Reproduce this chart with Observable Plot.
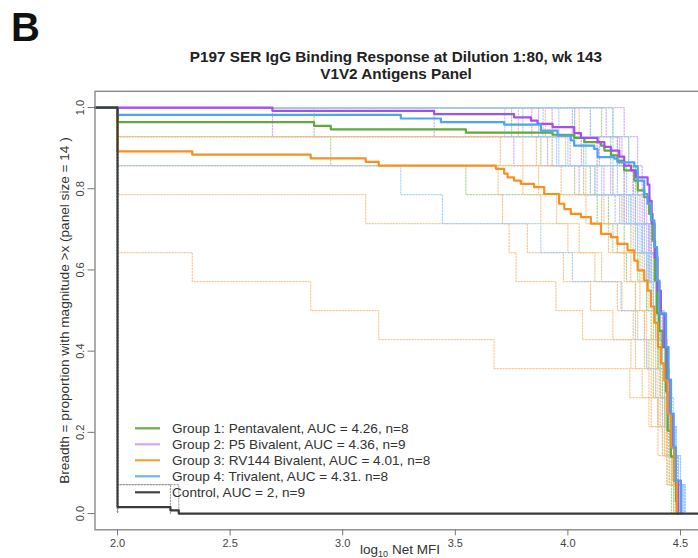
<!DOCTYPE html>
<html><head><meta charset="utf-8">
<script src="https://cdn.jsdelivr.net/npm/d3@7"></script>
<script src="https://cdn.jsdelivr.net/npm/@observablehq/plot@0.6"></script>
<style>
body{margin:0;background:#fff;}
#wrap{position:relative;width:698px;height:558px;overflow:hidden;font-family:"Liberation Sans",Arial,sans-serif;background:#fff;}
#tag{position:absolute;left:11px;top:5px;font:bold 40px "Liberation Sans",Arial,sans-serif;color:#111;}
#title{position:absolute;left:0;width:792px;top:48px;text-align:center;font:bold 15.3px "Liberation Sans",Arial,sans-serif;line-height:17px;color:#222;}
#chart{position:absolute;left:0;top:85px;width:707px;}
#chart svg{max-width:none !important;}
</style></head>
<body>
<div id="wrap">
  <div id="tag">B</div>
  <div id="title">P197 SER IgG Binding Response at Dilution 1:80, wk 143<br>V1V2 Antigens Panel</div>
  <div id="chart"></div>
</div>
<script>
// ---- axis / labels ----
const X0 = 1.9, X1 = 4.62;
const xTicks = [2.0, 2.5, 3.0, 3.5, 4.0, 4.5];
const yTicks = [0, 0.2, 0.4, 0.6, 0.8, 1.0];
const yLabel = "Breadth = proportion with magnitude >x (panel size = 14 )";
const groups = ["Group 1: Pentavalent, AUC = 4.26, n=8", "Group 2: P5 Bivalent, AUC = 4.36, n=9",
  "Group 3: RV144 Bivalent, AUC = 4.01, n=8", "Group 4: Trivalent, AUC = 4.31. n=8", "Control, AUC = 2, n=9"];
const solidColors = ["#62a83c", "#a450f0", "#f7901e", "#4fa3f2", "#3a3a3a"];
const dotColors = ["#9fcf82", "#d49cf7", "#f9bd80", "#9ccbf7", "#9a9a9a"];
const legendColors = ["#6aad45", "#d8a5f7", "#f7a040", "#6cb4f5", "#444444"];

// ---- group (solid) curves: x where the step drops, y after the drop ----
const g1X = [1.9, 2.0, 2.873, 2.947, 3.547, 3.932, 4.028, 4.073, 4.147, 4.162, 4.191, 4.22, 4.25, 4.295, 4.31, 4.339, 4.361, 4.376, 4.387, 4.396, 4.405, 4.42, 4.436, 4.443, 4.458, 4.47, 4.48, 4.487];
const g1Y = [1.0, 0.964, 0.955, 0.946, 0.938, 0.933, 0.925, 0.915, 0.906, 0.894, 0.882, 0.869, 0.845, 0.82, 0.796, 0.779, 0.738, 0.672, 0.574, 0.493, 0.45, 0.41, 0.30, 0.204, 0.14, 0.081, 0.03, 0];
const g2X = [1.9, 2.688, 3.406, 3.761, 3.836, 3.865, 3.932, 4.028, 4.058, 4.132, 4.162, 4.191, 4.228, 4.25, 4.28, 4.302, 4.354, 4.362, 4.372, 4.385, 4.398, 4.413, 4.428, 4.443, 4.455, 4.465, 4.476, 4.49];
const g2Y = [1.0, 0.992, 0.984, 0.976, 0.968, 0.96, 0.952, 0.937, 0.925, 0.915, 0.903, 0.894, 0.879, 0.857, 0.845, 0.828, 0.81, 0.77, 0.714, 0.631, 0.549, 0.492, 0.41, 0.328, 0.245, 0.163, 0.08, 0];
const g3X = [1.9, 2.0, 2.332, 2.858, 3.102, 3.16, 3.68, 3.717, 3.732, 3.761, 3.791, 3.85, 3.895, 3.961, 3.984, 4.013, 4.058, 4.102, 4.147, 4.191, 4.22, 4.265, 4.295, 4.31, 4.339, 4.354, 4.369, 4.384, 4.40, 4.413, 4.428, 4.443, 4.458, 4.472, 4.484];
const g3Y = [1.0, 0.892, 0.884, 0.875, 0.866, 0.857, 0.849, 0.837, 0.828, 0.82, 0.812, 0.804, 0.787, 0.763, 0.75, 0.738, 0.73, 0.714, 0.689, 0.681, 0.664, 0.648, 0.623, 0.599, 0.574, 0.549, 0.51, 0.47, 0.41, 0.37, 0.328, 0.246, 0.163, 0.081, 0];
const g4X = [1.9, 2.0, 3.258, 3.436, 3.717, 3.88, 3.954, 4.013, 4.028, 4.117, 4.132, 4.206, 4.22, 4.295, 4.31, 4.339, 4.354, 4.369, 4.384, 4.396, 4.406, 4.436, 4.447, 4.458, 4.47, 4.48, 4.502];
const g4Y = [1.0, 0.982, 0.973, 0.964, 0.958, 0.943, 0.931, 0.919, 0.906, 0.898, 0.878, 0.874, 0.865, 0.855, 0.82, 0.787, 0.763, 0.722, 0.656, 0.574, 0.493, 0.41, 0.33, 0.246, 0.163, 0.081, 0];
const ctlX = [1.9, 2.0, 2.235, 2.272, X1];
const ctlY = [1.0, 0.0159, 0.0079, 0, 0];

// ---- individual animals (14 antigens each, log10 net MFI, floor 2.0) ----
const grp1Animals = [
  [2.00, 4.22, 4.30, 4.34, 4.37, 4.39, 4.41, 4.42, 4.43, 4.44, 4.45, 4.46, 4.47, 4.49],
  [2.873, 2.947, 3.547, 4.28, 4.33, 4.36, 4.38, 4.40, 4.41, 4.43, 4.44, 4.45, 4.47, 4.48],
  [2.00, 3.93, 4.03, 4.15, 4.25, 4.31, 4.35, 4.38, 4.40, 4.42, 4.43, 4.45, 4.46, 4.48],
  [2.00, 2.00, 4.07, 4.13, 4.20, 4.35, 4.38, 4.39, 4.41, 4.42, 4.44, 4.45, 4.46, 4.47],
  [4.03, 4.07, 4.12, 4.18, 4.22, 4.26, 4.30, 4.34, 4.36, 4.38, 4.40, 4.42, 4.44, 4.46],
  [4.15, 4.19, 4.25, 4.30, 4.34, 4.36, 4.38, 4.39, 4.40, 4.42, 4.43, 4.44, 4.46, 4.48],
  [3.75, 3.88, 4.10, 4.24, 4.28, 4.32, 4.35, 4.37, 4.39, 4.41, 4.43, 4.44, 4.45, 4.47],
  [4.20, 4.27, 4.31, 4.34, 4.36, 4.37, 4.38, 4.39, 4.40, 4.41, 4.43, 4.45, 4.47, 4.49]];
const grp2Animals = [
  [2.688, 4.22, 4.29, 4.33, 4.37, 4.40, 4.41, 4.42, 4.43, 4.44, 4.46, 4.47, 4.48, 4.50],
  [3.406, 3.76, 4.05, 4.30, 4.36, 4.39, 4.41, 4.43, 4.44, 4.45, 4.46, 4.47, 4.49, 4.50],
  [3.84, 3.91, 4.13, 4.25, 4.31, 4.36, 4.39, 4.41, 4.42, 4.44, 4.45, 4.47, 4.48, 4.50],
  [3.87, 4.01, 4.16, 4.26, 4.34, 4.38, 4.40, 4.42, 4.43, 4.44, 4.46, 4.47, 4.48, 4.49],
  [3.93, 4.06, 4.19, 4.23, 4.30, 4.35, 4.39, 4.41, 4.42, 4.43, 4.45, 4.46, 4.48, 4.51],
  [4.02, 4.14, 4.25, 4.30, 4.33, 4.37, 4.39, 4.40, 4.42, 4.44, 4.45, 4.47, 4.49, 4.50],
  [4.10, 4.23, 4.29, 4.32, 4.35, 4.38, 4.40, 4.41, 4.43, 4.45, 4.46, 4.48, 4.49, 4.51],
  [4.17, 4.24, 4.31, 4.34, 4.36, 4.38, 4.40, 4.42, 4.43, 4.44, 4.46, 4.47, 4.49, 4.50],
  [4.25, 4.31, 4.33, 4.35, 4.37, 4.39, 4.41, 4.42, 4.44, 4.45, 4.46, 4.48, 4.49, 4.51]];
const grp3Animals = [
  [2.00, 2.00, 2.00, 2.00, 2.00, 2.332, 2.858, 3.16, 3.672, 4.275, 4.36, 4.42, 4.45, 4.48],
  [2.00, 2.00, 2.00, 3.102, 3.739, 3.77, 3.947, 4.065, 4.30, 4.36, 4.40, 4.43, 4.46, 4.49],
  [2.00, 2.00, 3.69, 3.71, 3.82, 3.98, 4.10, 4.20, 4.28, 4.33, 4.37, 4.40, 4.44, 4.48],
  [2.00, 3.70, 3.80, 3.88, 4.00, 4.12, 4.22, 4.29, 4.34, 4.37, 4.40, 4.43, 4.46, 4.48],
  [2.00, 3.80, 3.87, 3.95, 4.05, 4.15, 4.24, 4.31, 4.35, 4.38, 4.41, 4.44, 4.46, 4.49],
  [3.78, 3.86, 3.97, 4.08, 4.18, 4.25, 4.30, 4.34, 4.37, 4.39, 4.42, 4.44, 4.47, 4.49],
  [3.90, 3.99, 4.08, 4.16, 4.22, 4.28, 4.32, 4.35, 4.38, 4.40, 4.42, 4.45, 4.47, 4.48],
  [4.05, 4.13, 4.20, 4.25, 4.29, 4.33, 4.36, 4.38, 4.40, 4.41, 4.43, 4.45, 4.47, 4.49]];
const grp4Animals = [
  [2.00, 2.00, 3.258, 3.443, 3.88, 4.02, 4.236, 4.30, 4.35, 4.39, 4.42, 4.45, 4.48, 4.51],
  [3.72, 3.95, 4.12, 4.27, 4.33, 4.37, 4.40, 4.42, 4.43, 4.45, 4.46, 4.48, 4.50, 4.52],
  [3.80, 3.96, 4.10, 4.21, 4.30, 4.35, 4.38, 4.41, 4.43, 4.44, 4.46, 4.47, 4.49, 4.51],
  [3.89, 4.00, 4.15, 4.25, 4.31, 4.34, 4.37, 4.40, 4.42, 4.44, 4.45, 4.47, 4.49, 4.52],
  [3.96, 4.08, 4.20, 4.28, 4.33, 4.36, 4.39, 4.41, 4.43, 4.45, 4.46, 4.48, 4.50, 4.51],
  [4.03, 4.13, 4.22, 4.29, 4.32, 4.35, 4.38, 4.40, 4.42, 4.44, 4.46, 4.48, 4.49, 4.52],
  [4.10, 4.20, 4.26, 4.31, 4.34, 4.37, 4.39, 4.41, 4.43, 4.45, 4.47, 4.48, 4.50, 4.51],
  [4.20, 4.27, 4.31, 4.34, 4.36, 4.38, 4.40, 4.41, 4.43, 4.45, 4.46, 4.48, 4.50, 4.52]];
const ctlAnimals = [
  [2, 2, 2, 2, 2, 2, 2, 2, 2, 2, 2, 2, 2, 2.235],
  [2, 2, 2, 2, 2, 2, 2, 2, 2, 2, 2, 2, 2, 2.272],
  [2, 2, 2, 2, 2, 2, 2, 2, 2, 2, 2, 2, 2, 2],
  [2, 2, 2, 2, 2, 2, 2, 2, 2, 2, 2, 2, 2, 2],
  [2, 2, 2, 2, 2, 2, 2, 2, 2, 2, 2, 2, 2, 2],
  [2, 2, 2, 2, 2, 2, 2, 2, 2, 2, 2, 2, 2, 2],
  [2, 2, 2, 2, 2, 2, 2, 2, 2, 2, 2, 2, 2, 2],
  [2, 2, 2, 2, 2, 2, 2, 2, 2, 2, 2, 2, 2, 2],
  [2, 2, 2, 2, 2, 2, 2, 2, 2, 2, 2, 2, 2, 2]];

// ---- build tables ----
const animalSets = [grp1Animals, grp2Animals, grp3Animals, grp4Animals, ctlAnimals];
const dotRows = [];
animalSets.forEach((set, gi) => set.forEach((vals, ai) => {
  const id = gi + "-" + ai, n = vals.length;
  dotRows.push({x: X0, y: 1, id, g: gi});
  [...new Set(vals)].sort((a, b) => a - b).forEach(v =>
    dotRows.push({x: v, y: vals.filter(u => u > v).length / n, id, g: gi}));
}));
const solidSets = [[g1X, g1Y], [g2X, g2Y], [g3X, g3Y], [g4X, g4Y], [ctlX, ctlY]];
const solidRows = [];
solidSets.forEach(([xs, ys], gi) => xs.forEach((x, i) => solidRows.push({x, y: ys[i], g: gi})));

const plot = Plot.plot({
  width: 707, height: 473,
  marginLeft: 94.5, marginRight: 0, marginTop: 5.8, marginBottom: 28.7,
  x: {domain: [X0, X1]},
  y: {domain: [-0.04, 1.04]},
  style: {fontFamily: "'Liberation Sans', Arial, sans-serif", background: "white", color: "#444", maxWidth: "none"},
  marks: [
    Plot.line(dotRows, {x: "x", y: "y", z: "id", stroke: d => dotColors[d.g], curve: "step-after",
      strokeWidth: 1.2, strokeDasharray: "1.3,1.7", strokeOpacity: 0.85}),
    Plot.line(solidRows, {x: "x", y: "y", z: "g", stroke: d => solidColors[d.g], curve: "step-after",
      strokeWidth: 2.2}),
    Plot.frame({stroke: "#8a8a8a", strokeWidth: 1.4}),
    Plot.axisY(yTicks, {tickRotate: -90, tickSize: 7, tickPadding: 4, tickFormat: d => d.toFixed(1),
      fontSize: 11, stroke: "#777", fill: "#444", label: null}),
    Plot.axisX(xTicks, {tickSize: 6, tickPadding: 3, tickFormat: d => d.toFixed(1),
      fontSize: 11, stroke: "#777", fill: "#444", label: null}),
    Plot.text([yLabel], {frameAnchor: "left", textAnchor: "middle", dx: -30, rotate: -90, fontSize: 13.6, fill: "#333"})
  ]
});
plot.style.maxWidth = "none";
document.getElementById("chart").appendChild(plot);

// ---- x label with subscript, and legend ----
const svg = d3.select(plot);
const xl = svg.append("text").attr("x", 400).attr("y", 469).attr("text-anchor", "middle")
  .attr("font-size", 13.5).attr("fill", "#333");
xl.append("tspan").text("log");
xl.append("tspan").attr("font-size", 9).attr("dy", 3).text("10");
xl.append("tspan").attr("dy", -3).text(" Net MFI");

const lg = svg.append("g").attr("text-anchor", "start");
groups.forEach((t, i) => {
  const y = 343.3 + i * 16;
  lg.append("line").attr("x1", 135).attr("x2", 160).attr("y1", y).attr("y2", y)
    .attr("stroke", legendColors[i]).attr("stroke-width", 2.2);
  lg.append("text").attr("x", 172).attr("y", y).attr("dy", "0.36em").attr("font-size", 13.6)
    .attr("text-anchor", "start").attr("fill", "#333").text(t);
});
</script>
</body></html>
